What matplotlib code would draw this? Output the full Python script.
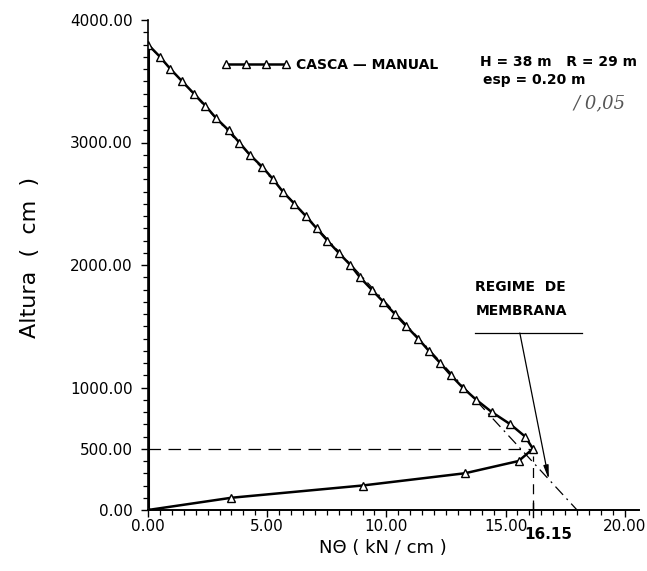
import matplotlib.pyplot as plt
import numpy as np

# Altura (cm) x N-theta (kN/cm), casca cilindrica - calculo manual
h_desc = [3800, 3700, 3600, 3500, 3400, 3300, 3200, 3100, 3000, 2900,
          2800, 2700, 2600, 2500, 2400, 2300, 2200, 2100, 2000, 1900,
          1800, 1700, 1600, 1500, 1400, 1300, 1200, 1100, 1000, 900,
          800, 700, 600, 500]
n_desc = [0.00, 0.50, 0.94, 1.43, 1.92, 2.41, 2.85, 3.38, 3.83, 4.27,
          4.80, 5.25, 5.65, 6.14, 6.62, 7.07, 7.52, 8.00, 8.49, 8.89,
          9.38, 9.87, 10.36, 10.84, 11.33, 11.78, 12.26, 12.71, 13.20, 13.77,
          14.42, 15.20, 15.82, 16.15]
h_base = [400, 300, 200, 100, 0]
n_base = [15.55, 13.30, 9.00, 3.50, 0.00]

# regime de membrana (reta do topo ate a base)
h_membr = [3800, 0]
n_membr = [0.0, 18.0]

n_max = 16.15
h_max = 500

altura = h_desc + h_base
ntheta = n_desc + n_base

fig = plt.figure(figsize=(6.47, 5.71), dpi=100)
ax = fig.add_axes([148/647, 61/571, 491/647, 490/571])

# reta do regime de membrana
ax.plot(n_membr, h_membr, color='k', lw=0.9, dashes=[9, 4, 1.5, 4])

# linhas de referencia do maximo
ax.plot([0, n_max], [h_max, h_max], color='k', lw=0.9, dashes=[10, 6])
ax.plot([n_max, n_max], [0, h_max - 60], color='k', lw=0.9, dashes=[8, 5])

# fechamento em N=0 (topo ate base)
ax.plot([ntheta[0], ntheta[-1]], [altura[0], altura[-1]], color='k', lw=2.2,
        solid_capstyle='butt')

ax.plot(ntheta, altura, color='k', lw=1.8, marker='^', ms=5.5,
        mfc='white', mec='k', mew=1.0, label='CASCA \u2014 MANUAL')

ax.set_xlim(0, 20.6)
ax.set_ylim(0, 4000)

ax.spines['top'].set_visible(False)
ax.spines['right'].set_visible(False)
ax.spines['left'].set_linewidth(1.2)
ax.spines['bottom'].set_linewidth(1.4)

ax.set_xticks([0, 5, 10, 15, 20])
ax.set_xticks(np.arange(0, 20.01, 0.5), minor=True)
ax.set_yticks([0, 500, 1000, 2000, 3000, 4000])
ax.set_yticks(np.arange(0, 4001, 100), minor=True)
ax.xaxis.set_major_formatter(plt.FormatStrFormatter('%.2f'))
ax.yaxis.set_major_formatter(plt.FormatStrFormatter('%.2f'))
ax.tick_params(which='major', length=5, width=1, labelsize=11)
ax.tick_params(which='minor', length=3.5, width=0.9)
ax.tick_params(axis='x', which='major', pad=1.5)
ax.tick_params(axis='y', which='major', pad=6)

ax.set_xlabel('N\u0398 ( kN / cm )', fontsize=13, va='center')
ax.xaxis.set_label_coords(0.479, -0.078)
ax.set_ylabel('Altura  (  cm  )', fontsize=16, va='center', ha='center')
ax.yaxis.set_label_coords(-0.240, 0.516)

# valor maximo marcado no eixo
ax.plot([n_max, n_max], [-60, 60], color='k', lw=1, clip_on=False)
ax.annotate('%.2f' % n_max, xy=(n_max, 0), xytext=(11, -17.5),
            textcoords='offset points', ha='center', va='center',
            fontsize=11, fontweight='bold')

ax.legend(loc='center left', bbox_to_anchor=(0.151, 0.908), frameon=False,
          numpoints=4, handlelength=4.9, handletextpad=0.4, borderpad=0,
          borderaxespad=0, prop={'size': 10, 'weight': 'bold'})

ax.text(0.676, 0.914, 'H = 38 m   R = 29 m', transform=ax.transAxes,
        fontsize=10, fontweight='bold', va='center', ha='left')
ax.text(0.682, 0.878, 'esp = 0.20 m', transform=ax.transAxes,
        fontsize=10, fontweight='bold', va='center', ha='left')
ax.text(0.92, 0.83, '/ 0,05', transform=ax.transAxes, fontsize=13,
        family='DejaVu Serif', style='italic', color='#555555',
        va='center', ha='center')

# anotacao do regime de membrana
ax.text(0.666, 0.455, 'REGIME  DE', transform=ax.transAxes,
        fontsize=10, fontweight='bold', va='center', ha='left')
ax.text(0.668, 0.406, 'MEMBRANA', transform=ax.transAxes,
        fontsize=10, fontweight='bold', va='center', ha='left')
ax.plot([13.7, 18.2], [1445, 1445], color='k', lw=0.9)
h_seta = 250
n_seta = n_membr[0] + (n_membr[1] - n_membr[0]) * (h_membr[0] - h_seta) / (h_membr[0] - h_membr[1])
ax.annotate('', xy=(n_seta, h_seta), xytext=(15.6, 1445),
            arrowprops=dict(arrowstyle='-|>,head_width=0.15,head_length=0.8',
                            color='k', lw=0.9, shrinkA=0, shrinkB=0))

fig.savefig('out.png', dpi=100)
